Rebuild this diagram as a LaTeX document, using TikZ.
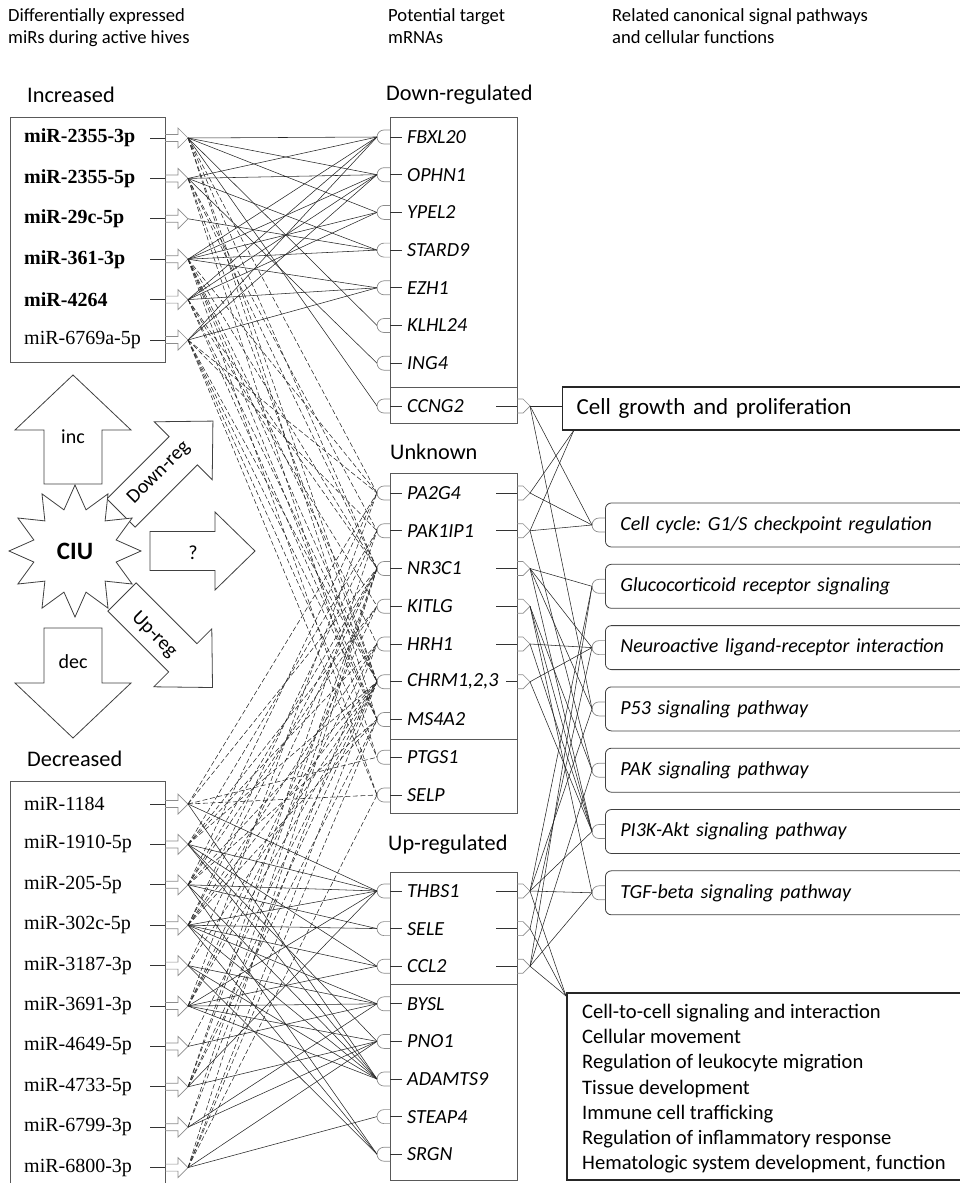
\documentclass[tikz,border=0pt]{standalone}
\usepackage{fontspec}
\setmainfont{Carlito}
\newfontfamily\timesfont{Liberation Serif}
\usetikzlibrary{shapes.geometric}

\tikzset{
  hdr/.style={anchor=north west, inner sep=0, align=left, font=\fontsize{18.6}{22}\selectfont},
  ttl/.style={anchor=west, inner sep=0, font=\fontsize{22.3}{26}\selectfont},
  mirlab/.style={anchor=west, inner sep=0, font=\timesfont\fontsize{20}{24}\selectfont},
  genelab/.style={anchor=west, inner sep=0, font=\fontsize{20}{24}\selectfont\itshape},
  grpbox/.style={draw=black!65, line width=0.8pt},
  tick/.style={draw=black!80, line width=0.7pt},
  cup/.style={draw=black!45, line width=0.7pt},
  link/.style={draw=black!85, line width=0.55pt},
  dlink/.style={link, dash pattern=on 5pt off 2.5pt},
  bigarr/.style={draw=black!75, line width=0.8pt, fill=white, line join=miter},
  arrlab/.style={inner sep=0, font=\fontsize{20}{24}\selectfont},
  pathbox/.style={draw=black!75, line width=0.8pt, rounded corners=6pt, anchor=west,
    minimum height=44pt, text width=330pt, inner xsep=15pt, align=left,
    font=\fontsize{20}{24}\selectfont\itshape},
  fbox/.style={draw=black!85, line width=1.3pt, align=left, font=\fontsize{20}{24}\selectfont},
  ftext/.style={anchor=north west, inner sep=0, align=left, font=\fontsize{20.6}{25.2}\selectfont},
  pics/mirarr/.style={code={\draw[cup] (0,3.5) -- (13,3.5) -- (13,10) -- (23,0) -- (13,-10) -- (13,-3.5) -- (0,-3.5);}},
  pics/gcup/.style={code={\draw[cup] (0,7) -- (-6,7) arc[start angle=90,end angle=270,radius=7pt] -- (0,-7);}},
  pics/gout/.style={code={\draw[cup] (0,7) -- (6,7) -- (13,0) -- (6,-7) -- (0,-7);}},
  pics/blockarr/.style n args={4}{code={\draw[bigarr] (0,-#2) -- (#4,-#2) -- (#4,-#3) -- (#1,0) -- (#4,#3) -- (#4,#2) -- (0,#2) -- cycle;}}
}

\begin{document}
\frenchspacing
\begin{tikzpicture}[x=1pt,y=1pt]
\useasboundingbox (0,0) rectangle (959,-1183);

% column headers
\node[hdr] (h1) at (8,-8) {Differentially expressed\\miRs during active hives};
\node[hdr] (h2) at (388,-8) {Potential target\\mRNAs};
\node[hdr] (h3) at (612,-8) {Related canonical signal pathways\\and cellular functions};

% group titles
\node[ttl] (tinc) at (27,-95) {Increased};
\node[ttl] (tdec) at (27,-759) {Decreased};
\node[ttl] (tdown) at (386,-95) {Down-regulated};
\node[ttl] (tunk) at (390,-452) {Unknown};
\node[ttl] (tup) at (388,-845) {Up-regulated};

% group boxes
\draw[grpbox] (10,-117) rectangle (165,-362);
\draw[grpbox] (10,-781) rectangle (165,-1195);
\draw[grpbox] (390,-117) rectangle (517,-423);
\draw[grpbox] (390,-387) -- (517,-387);
\draw[grpbox] (390,-473) rectangle (517,-813);
\draw[grpbox] (390,-739) -- (517,-739);
\draw[grpbox] (390,-872) rectangle (517,-1180);
\draw[grpbox] (390,-984) -- (517,-984);

% increased miRs
\foreach \m/\fw [count=\i] in {miR-2355-3p/\bfseries, miR-2355-5p/\bfseries, miR-29c-5p/\bfseries,
    miR-361-3p/\bfseries, miR-4264/\bfseries, miR-6769a-5p/\mdseries}{
  \pgfmathsetmacro\yy{-138-40.4*(\i-1)}
  \node[mirlab] (ma\i) at (24,\yy) {\fw\m};
  \draw[tick] (150,\yy) -- (165,\yy);
  \pic at (165,\yy) {mirarr};
  \coordinate (a\i) at (188,\yy);
}

% decreased miRs
\foreach \m [count=\i] in {miR-1184, miR-1910-5p, miR-205-5p, miR-302c-5p, miR-3187-3p,
    miR-3691-3p, miR-4649-5p, miR-4733-5p, miR-6799-3p, miR-6800-3p}{
  \pgfmathsetmacro\yy{-804-40.4*(\i-1)}
  \node[mirlab] (mb\i) at (24,\yy) {\m};
  \draw[tick] (150,\yy) -- (165,\yy);
  \pic at (165,\yy) {mirarr};
  \coordinate (b\i) at (188,\yy);
}

% down-regulated targets
\foreach \g [count=\i] in {FBXL20, OPHN1, YPEL2, STARD9, EZH1, KLHL24, ING4, CCNG2}{
  \pgfmathsetmacro\yy{\i<8 ? -137-37.7*(\i-1) : -406}
  \node[genelab] (gd\i) at (407,\yy) {\g};
  \draw[tick] (390,\yy) -- (402,\yy);
  \pic at (390,\yy) {gcup};
  \coordinate (d\i) at (377,\yy);
}

% unknown targets
\foreach \g [count=\i] in {PA2G4, PAK1IP1, NR3C1, KITLG, HRH1, {CHRM1,2,3}, MS4A2, PTGS1, SELP}{
  \pgfmathsetmacro\yy{-493-37.75*(\i-1)}
  \node[genelab] (gu\i) at (407,\yy) {\g};
  \draw[tick] (390,\yy) -- (402,\yy);
  \pic at (390,\yy) {gcup};
  \coordinate (u\i) at (377,\yy);
}

% up-regulated targets
\foreach \g [count=\i] in {THBS1, SELE, CCL2, BYSL, PNO1, ADAMTS9, STEAP4, SRGN}{
  \pgfmathsetmacro\yy{-891-37.6*(\i-1)}
  \node[genelab] (gp\i) at (407,\yy) {\g};
  \draw[tick] (390,\yy) -- (402,\yy);
  \pic at (390,\yy) {gcup};
  \coordinate (p\i) at (377,\yy);
}

% outputs towards pathways
\foreach \n/\c/\xs in {gd8/d8/496, gu1/u1/496, gu2/u2/496, gu3/u3/496, gu4/u4/496,
    gu5/u5/496, gu6/u6/506, gp1/p1/496, gp2/p2/496, gp3/p3/496}{
  \draw[tick] (\xs,0 |- \n.east) -- (517,0 |- \n.east);
  \pic at (517,0 |- \n.east) {gout};
  \coordinate (o\c) at (530,0 |- \n.east);
}

% pathways
\foreach \t [count=\i] in {{Cell cycle: G1/S checkpoint regulation}, {Glucocorticoid receptor signaling},
    {Neuroactive ligand-receptor interaction}, {P53 signaling pathway}, {PAK signaling pathway},
    {PI3K-Akt signaling pathway}, {TGF-beta signaling pathway}}{
  \pgfmathsetmacro\yy{-525-61.3*(\i-1)}
  \node[pathbox] (pw\i) at (605,\yy) {\t};
  \pic at (605,\yy) {gcup};
  \coordinate (w\i) at (592,\yy);
}

\node[fbox, anchor=west, minimum height=43pt, text width=380pt, inner xsep=14pt,
  font=\fontsize{23}{27}\selectfont] (cgbox) at (562,-408.5) {Cell growth and proliferation};
\coordinate (cg) at (562,-406);
\coordinate (cgb) at (574,-430);

\draw[fbox] (567,-993) rectangle (975,-1180);
\node[ftext] (fntext) at (582,-1004)
  {Cell-to-cell signaling and interaction\\Cellular movement\\Regulation of leukocyte migration\\
   Tissue development\\Immune cell trafficking\\Regulation of inflammatory response\\
   Hematologic system development, function};
\coordinate (fn) at (566,-996);

% CIU and its arrows
\pic[rotate=90] at (73,-484) {blockarr={109}{29}{58}{54}};
\pic[rotate=-90] at (73,-628) {blockarr={110}{29}{58}{55}};
\pic at (150,-551) {blockarr={105}{19.5}{39}{65}};
\pic[rotate=45] at (121,-513) {blockarr={130}{20}{41}{88}};
\pic[rotate=-45] at (122,-597) {blockarr={128}{20}{41}{86}};
\node[arrlab] (inc) at (73,-437) {inc};
\node[arrlab] (dec) at (73,-662) {dec};
\node[arrlab] (unk) at (193,-553) {?};
\node[arrlab, rotate=45] (dreg) at (159,-473) {Down-reg};
\node[arrlab, rotate=-45] (ureg) at (154,-635) {Up-reg};
\node[star, star points=12, star point ratio=1.55, minimum size=132pt, draw=black!75,
  fill=white, line width=0.8pt, inner sep=0, font=\bfseries\fontsize{25}{30}\selectfont]
  (ciu) at (75,-551) {CIU};

% increased miRs -> down-regulated targets
\foreach \s/\tl in {a1/{d1,d2,d3,d6,d8}, a2/{d1,d2,d4,d7}, a3/{d4},
    a4/{d1,d2,d3,d4,d5}, a5/{d1,d2,d3,d5}, a6/{d1,d2,d5}}
  \foreach \t in \tl {\draw[link] (\s) -- (\t);}

% increased miRs -> unknown targets
\foreach \s/\tl in {a1/{u1,u3,u6,u7}, a2/{u2,u3,u6,u8}, a4/{u1,u3,u5,u6,u7,u9},
    a5/{u3,u4,u6,u7}, a6/{u1,u2,u6,u7,u8,u9}}
  \foreach \t in \tl {\draw[dlink] (\s) -- (\t);}

% decreased miRs -> unknown targets
\foreach \s/\tl in {b1/{u1,u3,u8,u9}, b2/{u2,u4,u5,u6}, b3/{u1,u3,u4,u6,u7},
    b4/{u2,u3,u5,u6,u7}, b5/{u3,u6}, b6/{u1,u4,u5,u6}, b7/{u6}, b8/{u2,u3,u6,u7},
    b9/{u3,u5}, b10/{u3,u6,u7,u9}}
  \foreach \t in \tl {\draw[dlink] (\s) -- (\t);}

% decreased miRs -> up-regulated targets
\foreach \s/\tl in {b1/{p1,p6}, b2/{p1,p3,p5,p6}, b3/{p1,p2,p6,p8}, b4/{p1,p2,p3,p4,p6,p8},
    b5/{p4,p6,p8}, b6/{p1,p3,p4,p5,p6}, b7/{p4}, b8/{p1,p5}, b9/{p4,p5}, b10/{p5,p7}}
  \foreach \t in \tl {\draw[link] (\s) -- (\t);}

% targets -> pathways and functions
\foreach \s/\tl in {od8/{cg,w1,w4}, ou1/{cgb,w1}, ou2/{cgb,w1,w5}, ou3/{w2,w3,w4,w6},
    ou4/{w5,w6,w7}, ou5/{w3,w6}, ou6/{w3,w6}, op1/{w2,w4,w6,w7,fn}, op2/{w3,fn},
    op3/{w2,w5,w7,fn}}
  \foreach \t in \tl {\draw[link] (\s) -- (\t);}

\end{tikzpicture}
\end{document}
